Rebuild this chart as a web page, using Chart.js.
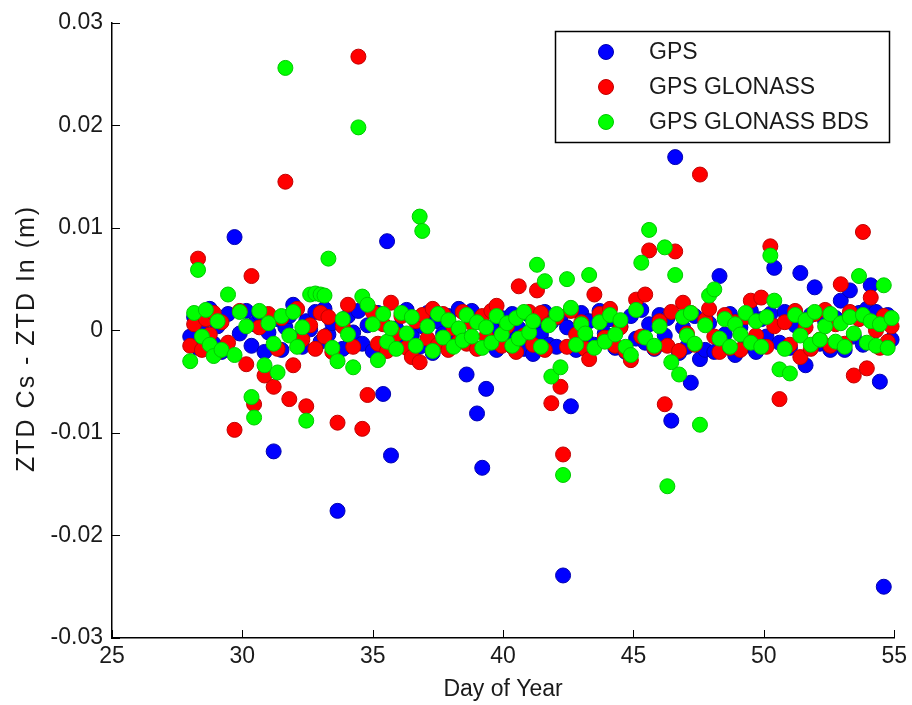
<!DOCTYPE html>
<html><head><meta charset="utf-8">
<script src="https://cdn.jsdelivr.net/npm/chart.js@4.4.0/dist/chart.umd.min.js"></script>
<style>html,body{margin:0;padding:0;background:#fff;}#wrap{width:912px;height:705px;position:relative;}</style>
</head><body><div id="wrap"><canvas id="c" width="912" height="705"></canvas></div>
<script>
const days = [
28.0, 28.15, 28.3, 28.45, 28.6, 28.75, 28.9, 29.05, 29.2, 29.45,
29.7, 29.9, 30.15, 30.35, 30.45, 30.65, 30.85, 31.0, 31.2, 31.35,
31.5, 31.65, 31.8, 31.95, 32.1, 32.3, 32.45, 32.6, 32.8, 33.0,
33.15, 33.3, 33.45, 33.65, 33.85, 34.05, 34.25, 34.45, 34.6, 34.8,
35.0, 35.2, 35.4, 35.55, 35.7, 35.9, 36.1, 36.3, 36.5, 36.65,
36.8, 36.9, 37.1, 37.3, 37.5, 37.7, 37.9, 38.1, 38.3, 38.45,
38.6, 38.8, 39.0, 39.2, 39.35, 39.55, 39.75, 39.95, 40.15, 40.35,
40.5, 40.6, 40.8, 41.0, 41.15, 41.3, 41.45, 41.6, 41.75, 41.85,
42.05, 42.2, 42.3, 42.45, 42.6, 42.8, 43.0, 43.15, 43.3, 43.5,
43.7, 43.9, 44.1, 44.3, 44.5, 44.7, 44.9, 45.1, 45.3, 45.45,
45.6, 45.8, 46.0, 46.2, 46.3, 46.45, 46.6, 46.75, 46.9, 47.05,
47.2, 47.35, 47.55, 47.75, 47.9, 48.1, 48.3, 48.5, 48.7, 48.9,
49.1, 49.3, 49.5, 49.7, 49.9, 50.1, 50.25, 50.4, 50.6, 50.8,
51.0, 51.2, 51.4, 51.6, 51.8, 51.95, 52.15, 52.35, 52.55, 52.75,
52.95, 53.1, 53.3, 53.45, 53.65, 53.8, 53.95, 54.1, 54.3, 54.45,
54.6, 54.75, 54.9
];
const gps = [
-0.0006, 0.0013, -0.0017, 0.0002, -0.0009, 0.0021, -0.0013, 0.0004, -0.0021, 0.0016,
0.0091, -0.0003, 0.0019, -0.0015, 0.0006, 0.0016, -0.0021, -0.0002, -0.0118, 0.0011,
-0.0019, 0.0003, 0.0014, 0.0025, -0.0007, -0.0016, 0.0009, 0.0001, 0.0018, -0.0011,
0.0021, -0.0004, 0.0007, -0.0176, -0.0018, 0.0014, -0.0002, 0.0019, -0.0013, 0.0005,
-0.0020, 0.0017, -0.0062, 0.0087, -0.0122, 0.0002, -0.0015, 0.0020, -0.0005, 0.0011,
-0.0016, 0.0004, 0.0017, -0.0022, 0.0009, -0.0003, 0.0014, -0.0012, 0.0021, -0.0007,
-0.0043, 0.0019, -0.0081, -0.0134, -0.0057, 0.0003, -0.0019, 0.0012, -0.0002, 0.0016,
-0.0009, 0.0002, -0.0018, 0.0015, -0.0023, 0.0006, -0.0004, 0.0018, -0.0014, 0.0008,
-0.0016, 0.0013, -0.0239, 0.0003, -0.0074, -0.0019, 0.0017, -0.0006, 0.0009, -0.0014,
0.0019, -0.0003, 0.0011, -0.0017, 0.0004, -0.0021, 0.0014, -0.0008, 0.0020, -0.0012,
0.0006, -0.0018, 0.0015, -0.0005, 0.0012, -0.0088, 0.0169, -0.0022, 0.0003, -0.0016,
-0.0051, 0.0014, -0.0028, -0.0019, 0.0007, -0.0021, 0.0053, -0.0004, 0.0016, -0.0024,
0.0003, -0.0015, 0.0019, -0.0021, 0.0011, -0.0006, 0.0016, 0.0061, -0.0012, 0.0018,
-0.0017, 0.0005, 0.0056, -0.0034, 0.0015, 0.0042, -0.0013, 0.0009, -0.0019, 0.0012,
0.0029, -0.0019, 0.0039, -0.0006, 0.0017, -0.0014, 0.0021, 0.0044, 0.0018, -0.0050,
-0.0250, 0.0015, -0.0009
];
const gpsGlonass = [
-0.0015, 0.0006, 0.0070, -0.0019, 0.0011, -0.0004, 0.0017, -0.0021, 0.0008, -0.0012,
-0.0097, 0.0019, -0.0033, 0.0053, -0.0072, 0.0003, -0.0044, 0.0016, -0.0055, -0.0018,
0.0012, 0.0145, -0.0067, -0.0034, 0.0021, -0.0009, -0.0074, 0.0005, -0.0018, 0.0017,
-0.0006, 0.0013, -0.0021, -0.0090, 0.0004, 0.0025, -0.0016, 0.0267, -0.0096, -0.0063,
0.0018, -0.0013, 0.0006, -0.0020, 0.0027, -0.0004, 0.0014, -0.0017, -0.0026, 0.0009,
-0.0031, 0.0015, -0.0008, 0.0021, -0.0014, 0.0016, -0.0019, 0.0002, -0.0011, 0.0018,
-0.0013, 0.0007, -0.0018, 0.0014, -0.0006, 0.0019, 0.0024, -0.0015, 0.0004, -0.0016,
-0.0021, 0.0043, -0.0005, 0.0018, -0.0014, 0.0039, 0.0017, -0.0019, 0.0006, -0.0071,
0.0013, -0.0055, -0.0121, -0.0016, 0.0019, -0.0004, 0.0008, -0.0018, -0.0028, 0.0035,
0.0016, -0.0007, 0.0021, -0.0015, 0.0003, -0.0020, -0.0029, 0.0030, -0.0006, 0.0035,
0.0078, -0.0017, 0.0009, -0.0072, -0.0015, 0.0018, 0.0077, -0.0020, 0.0027, -0.0003,
0.0017, -0.0014, 0.0152, 0.0010, 0.0021, -0.0006, -0.0021, 0.0015, -0.0017, 0.0008,
-0.0019, 0.0013, 0.0029, -0.0005, 0.0032, -0.0016, 0.0082, 0.0004, -0.0067, 0.0008,
-0.0014, 0.0019, -0.0026, 0.0003, -0.0018, 0.0016, -0.0009, 0.0020, -0.0015, 0.0006,
0.0045, -0.0013, 0.0018, -0.0044, 0.0011, 0.0096, -0.0037, 0.0032, 0.0000, -0.0017,
0.0014, -0.0011, 0.0004
];
const gpsGlonassBds = [
-0.0030, 0.0017, 0.0059, -0.0006, 0.0020, -0.0014, -0.0025, 0.0009, -0.0019, 0.0035,
-0.0024, 0.0018, 0.0004, -0.0065, -0.0085, 0.0019, -0.0034, 0.0007, -0.0013, -0.0041,
0.0014, 0.0256, -0.0005, 0.0018, -0.0016, 0.0003, -0.0088, 0.0035, 0.0036, 0.0035,
0.0034, 0.0070, -0.0017, -0.0030, 0.0011, -0.0004, -0.0036, 0.0198, 0.0033, 0.0025,
0.0006, -0.0029, 0.0016, -0.0011, 0.0002, -0.0018, 0.0017, -0.0003, 0.0013, -0.0015,
0.0111, 0.0097, 0.0004, -0.0020, 0.0016, -0.0007, 0.0010, -0.0016, 0.0002, -0.0010,
0.0015, -0.0006, 0.0008, -0.0017, 0.0003, -0.0012, 0.0014, -0.0004, 0.0007, -0.0015,
0.0012, -0.0008, 0.0018, -0.0002, 0.0009, 0.0064, -0.0016, 0.0048, 0.0005, -0.0045,
0.0016, -0.0036, -0.0141, 0.0050, 0.0022, -0.0014, 0.0006, -0.0003, 0.0054, -0.0017,
0.0008, -0.0011, 0.0015, -0.0004, 0.0010, -0.0016, -0.0024, 0.0020, 0.0066, -0.0007,
0.0098, -0.0015, 0.0004, 0.0081, -0.0152, -0.0031, 0.0054, -0.0043, 0.0013, -0.0005,
0.0017, -0.0013, -0.0092, 0.0005, 0.0034, 0.0040, -0.0008, 0.0011, -0.0016, 0.0006,
-0.0004, 0.0017, -0.0012, 0.0009, -0.0016, 0.0013, 0.0073, 0.0029, -0.0038, -0.0018,
-0.0042, 0.0015, -0.0005, 0.0010, -0.0014, 0.0018, -0.0009, 0.0004, 0.0016, -0.0011,
0.0007, -0.0016, 0.0013, -0.0003, 0.0053, 0.0015, -0.0012, 0.0009, -0.0015, 0.0006,
0.0044, -0.0017, 0.0012
];
const seriesNames = ['GPS', 'GPS GLONASS', 'GPS GLONASS BDS'];
const xTicks = [25, 30, 35, 40, 45, 50, 55];
const yTicks = [-0.03, -0.02, -0.01, 0, 0.01, 0.02, 0.03];
const xTitle = 'Day of Year';
const yTitle = 'ZTD Cs - ZTD In (m)';

const FONT = '"Liberation Sans", Arial, sans-serif';
const fills = ['#0000ff', '#ff0000', '#00ff00'];
const edges = ['#0000b0', '#c00000', '#00c800'];
const seriesValues = [gps, gpsGlonass, gpsGlonassBds];

const datasets = seriesValues.map((vals, k) => ({
  label: seriesNames[k],
  data: days.map((d, i) => ({x: d, y: vals[i]})),
  backgroundColor: fills[k],
  borderColor: edges[k],
  borderWidth: 1,
  pointRadius: 7.5,
  pointHoverRadius: 7.5,
  clip: false,
  order: 2 - k
}));

const inwardTicks = {
  id: 'inwardTicks',
  afterDraw(chart) {
    const {ctx, chartArea: a, scales: {x, y}} = chart;
    ctx.save();
    ctx.strokeStyle = '#000';
    ctx.lineWidth = 1;
    ctx.beginPath();
    xTicks.forEach(v => { const p = Math.round(x.getPixelForValue(v)) + 0.5; ctx.moveTo(p, a.bottom); ctx.lineTo(p, a.bottom - 8); });
    yTicks.forEach(v => { const p = Math.round(y.getPixelForValue(v)) + 0.5; ctx.moveTo(a.left, p); ctx.lineTo(a.left + 8, p); });
    ctx.stroke();
    ctx.translate(27, (a.top + a.bottom) / 2 + 8);
    ctx.rotate(-Math.PI / 2);
    ctx.fillStyle = '#1a1a1a';
    ctx.font = '25px ' + FONT;
    try { ctx.letterSpacing = '2px'; } catch (e) {}
    ctx.textAlign = 'center';
    ctx.textBaseline = 'middle';
    ctx.fillText(yTitle, 0, 0);
    ctx.restore();
  }
};

const boxLegend = {
  id: 'boxLegend',
  afterDraw(chart) {
    const {ctx} = chart;
    const L = 555, T = 31, R = 889, B = 142;
    ctx.save();
    ctx.fillStyle = '#fff';
    ctx.fillRect(L, T, R - L, B - T);
    ctx.strokeStyle = '#000';
    ctx.lineWidth = 1.5;
    ctx.strokeRect(L + 0.5, T + 0.5, R - L, B - T);
    ctx.font = '23px ' + FONT;
    ctx.textAlign = 'left';
    ctx.textBaseline = 'middle';
    chart.data.datasets.forEach((ds, i) => {
      const cy = 52 + i * 35;
      ctx.beginPath();
      ctx.arc(606, cy, 7.5, 0, Math.PI * 2);
      ctx.fillStyle = ds.backgroundColor;
      ctx.fill();
      ctx.strokeStyle = ds.borderColor;
      ctx.lineWidth = 1;
      ctx.stroke();
      ctx.fillStyle = '#1a1a1a';
      ctx.fillText(ds.label, 649, cy + 1);
    });
    ctx.restore();
  }
};

new Chart(document.getElementById('c'), {
  type: 'scatter',
  data: {datasets},
  plugins: [inwardTicks, boxLegend],
  options: {
    responsive: false,
    animation: false,
    devicePixelRatio: 1,
    layout: {padding: {top: 19, right: 14, bottom: 0, left: 0}},
    plugins: {legend: {display: false}, tooltip: {enabled: false}},
    scales: {
      x: {
        type: 'linear', min: 25, max: 55,
        afterBuildTicks: s => { s.ticks = xTicks.map(v => ({value: v})); },
        afterFit: s => { s.height = 67; },
        grid: {display: false, drawTicks: false},
        border: {display: true, color: '#000', width: 1.5},
        ticks: {color: '#1a1a1a', font: {family: FONT, size: 23}, padding: 5, maxRotation: 0, autoSkip: false,
                callback: v => String(v)},
        title: {display: true, text: xTitle, color: '#1a1a1a', font: {family: FONT, size: 23}, padding: {top: 0, bottom: 2}}
      },
      y: {
        type: 'linear', min: -0.03, max: 0.03,
        afterBuildTicks: s => { s.ticks = yTicks.map(v => ({value: v})); },
        afterFit: s => { s.width = 112; },
        grid: {display: false, drawTicks: false},
        border: {display: true, color: '#000', width: 1.5},
        ticks: {color: '#1a1a1a', font: {family: FONT, size: 23}, padding: 9, autoSkip: false,
                callback: v => String(v)}
      }
    }
  }
});
</script>
</body></html>
